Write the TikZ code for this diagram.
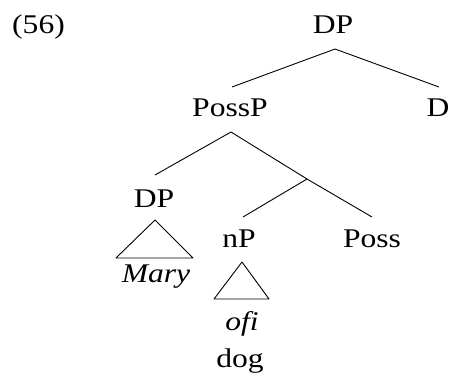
\documentclass[tikz,border=0pt]{standalone}
\usepackage{fontspec}
\setmainfont[FakeStretch=1.17]{Liberation Serif}
\begin{document}
\begin{tikzpicture}[x=1pt,y=-1pt,
  lbl/.style={anchor=base,inner sep=0pt,font=\fontsize{27}{30}\selectfont},
  branch/.style={line width=0.9pt,line join=round}]
\useasboundingbox (0,0) rectangle (451,373);
% labels
\node[lbl,anchor=base west] (ex) at (12,33) {(56)};
\node[lbl] (dp) at (333,33) {DP};
\node[lbl] (possp) at (230,116) {PossP};
\node[lbl] (d) at (438,116) {D};
\node[lbl] (dp2) at (154,207) {DP};
\node[lbl] (np) at (239,247) {nP};
\node[lbl] (poss) at (372,247) {Poss};
\node[lbl] (mary) at (156,282) {\itshape Mary};
\node[lbl] (ofi) at (242,330) {\itshape ofi};
\node[lbl] (dog) at (240,367) {dog};
% attachment points
\coordinate (dp-s) at (335,49);
\coordinate (possp-n) at (232,87);
\coordinate (d-n) at (439,87);
\coordinate (possp-s) at (231,132);
\coordinate (dp2-n) at (155,175);
\coordinate (bar) at (307,179);
\coordinate (np-n) at (243,217);
\coordinate (poss-n) at (372,217);
\coordinate (dp2-s) at (155,220);
\coordinate (np-s) at (242,262);
% branches
\draw[branch] (possp-n) -- (dp-s) -- (d-n);
\draw[branch] (dp2-n) -- (possp-s) -- (bar) -- (poss-n);
\draw[branch] (bar) -- (np-n);
% triangles
\draw[branch] (dp2-s) -- (116,258) -- (193,258) -- cycle;
\draw[branch] (np-s) -- (214,299) -- (269,299) -- cycle;
\end{tikzpicture}
\end{document}
